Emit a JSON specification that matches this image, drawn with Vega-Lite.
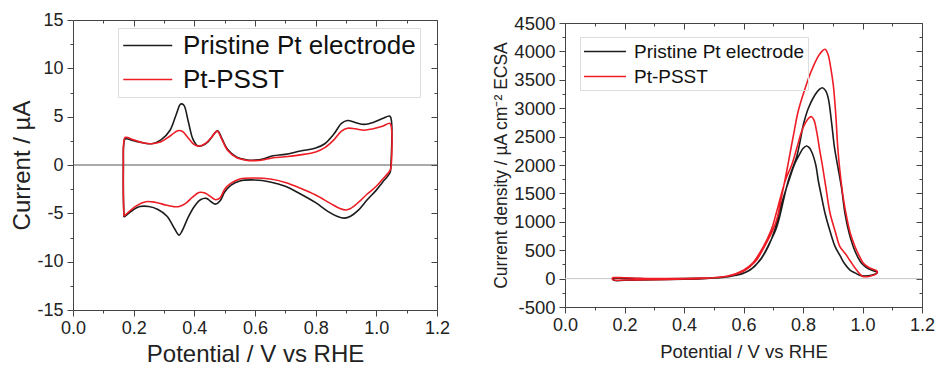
{
  "$schema": "https://vega.github.io/schema/vega-lite/v6.json",
  "background": "white",
  "padding": {"left": 10, "top": 11, "right": 5, "bottom": 2},
  "config": {
    "font": "Liberation Sans",
    "view": {"stroke": null},
    "axis": {"domainColor": "#444", "tickColor": "#444", "labelColor": "#222", "titleColor": "#222", "grid": false, "labelFontWeight": "normal", "titleFontWeight": "normal", "labelOverlap": false, "labelBound": false, "labelFlush": false, "domainWidth": 1, "tickWidth": 1}
  },
  "spacing": 128,
  "bounds": "flush",
  "center": true,
  "resolve": {"scale": {"color": "independent"}, "legend": {"color": "independent"}},
  "datasets": {
    "cv": [
      {"s":"Pristine Pt electrode","i":0,"v":0.168,"j":-5.4},
      {"s":"Pristine Pt electrode","i":1,"v":0.166,"j":-3},
      {"s":"Pristine Pt electrode","i":2,"v":0.166,"j":0},
      {"s":"Pristine Pt electrode","i":3,"v":0.167,"j":2.0},
      {"s":"Pristine Pt electrode","i":4,"v":0.172,"j":2.7},
      {"s":"Pristine Pt electrode","i":5,"v":0.2,"j":2.5},
      {"s":"Pristine Pt electrode","i":6,"v":0.23,"j":2.3},
      {"s":"Pristine Pt electrode","i":7,"v":0.26,"j":2.2},
      {"s":"Pristine Pt electrode","i":8,"v":0.29,"j":2.6},
      {"s":"Pristine Pt electrode","i":9,"v":0.32,"j":3.6},
      {"s":"Pristine Pt electrode","i":10,"v":0.34,"j":5.2},
      {"s":"Pristine Pt electrode","i":11,"v":0.355,"j":6.3},
      {"s":"Pristine Pt electrode","i":12,"v":0.365,"j":6.2},
      {"s":"Pristine Pt electrode","i":13,"v":0.38,"j":4.5},
      {"s":"Pristine Pt electrode","i":14,"v":0.395,"j":2.7},
      {"s":"Pristine Pt electrode","i":15,"v":0.41,"j":2.0},
      {"s":"Pristine Pt electrode","i":16,"v":0.425,"j":2.0},
      {"s":"Pristine Pt electrode","i":17,"v":0.445,"j":2.4},
      {"s":"Pristine Pt electrode","i":18,"v":0.465,"j":3.2},
      {"s":"Pristine Pt electrode","i":19,"v":0.477,"j":3.55},
      {"s":"Pristine Pt electrode","i":20,"v":0.49,"j":2.8},
      {"s":"Pristine Pt electrode","i":21,"v":0.51,"j":1.6},
      {"s":"Pristine Pt electrode","i":22,"v":0.54,"j":0.8},
      {"s":"Pristine Pt electrode","i":23,"v":0.57,"j":0.55},
      {"s":"Pristine Pt electrode","i":24,"v":0.6,"j":0.5},
      {"s":"Pristine Pt electrode","i":25,"v":0.63,"j":0.65},
      {"s":"Pristine Pt electrode","i":26,"v":0.66,"j":0.95},
      {"s":"Pristine Pt electrode","i":27,"v":0.7,"j":1.1},
      {"s":"Pristine Pt electrode","i":28,"v":0.75,"j":1.45},
      {"s":"Pristine Pt electrode","i":29,"v":0.8,"j":1.75},
      {"s":"Pristine Pt electrode","i":30,"v":0.83,"j":2.2},
      {"s":"Pristine Pt electrode","i":31,"v":0.86,"j":3.2},
      {"s":"Pristine Pt electrode","i":32,"v":0.885,"j":4.3},
      {"s":"Pristine Pt electrode","i":33,"v":0.905,"j":4.6},
      {"s":"Pristine Pt electrode","i":34,"v":0.93,"j":4.4},
      {"s":"Pristine Pt electrode","i":35,"v":0.96,"j":4.2},
      {"s":"Pristine Pt electrode","i":36,"v":0.99,"j":4.4},
      {"s":"Pristine Pt electrode","i":37,"v":1.02,"j":4.8},
      {"s":"Pristine Pt electrode","i":38,"v":1.045,"j":5.05},
      {"s":"Pristine Pt electrode","i":39,"v":1.05,"j":4.5},
      {"s":"Pristine Pt electrode","i":40,"v":1.048,"j":0},
      {"s":"Pristine Pt electrode","i":41,"v":1.045,"j":-0.8},
      {"s":"Pristine Pt electrode","i":42,"v":1.02,"j":-1.8},
      {"s":"Pristine Pt electrode","i":43,"v":1.0,"j":-2.6},
      {"s":"Pristine Pt electrode","i":44,"v":0.97,"j":-3.6},
      {"s":"Pristine Pt electrode","i":45,"v":0.94,"j":-4.7},
      {"s":"Pristine Pt electrode","i":46,"v":0.915,"j":-5.3},
      {"s":"Pristine Pt electrode","i":47,"v":0.895,"j":-5.5},
      {"s":"Pristine Pt electrode","i":48,"v":0.87,"j":-5.3},
      {"s":"Pristine Pt electrode","i":49,"v":0.84,"j":-4.8},
      {"s":"Pristine Pt electrode","i":50,"v":0.8,"j":-3.9},
      {"s":"Pristine Pt electrode","i":51,"v":0.75,"j":-3.0},
      {"s":"Pristine Pt electrode","i":52,"v":0.7,"j":-2.2},
      {"s":"Pristine Pt electrode","i":53,"v":0.65,"j":-1.75},
      {"s":"Pristine Pt electrode","i":54,"v":0.6,"j":-1.55},
      {"s":"Pristine Pt electrode","i":55,"v":0.55,"j":-1.65},
      {"s":"Pristine Pt electrode","i":56,"v":0.52,"j":-2.1},
      {"s":"Pristine Pt electrode","i":57,"v":0.5,"j":-2.8},
      {"s":"Pristine Pt electrode","i":58,"v":0.485,"j":-3.7},
      {"s":"Pristine Pt electrode","i":59,"v":0.47,"j":-4.05},
      {"s":"Pristine Pt electrode","i":60,"v":0.455,"j":-3.8},
      {"s":"Pristine Pt electrode","i":61,"v":0.44,"j":-3.45},
      {"s":"Pristine Pt electrode","i":62,"v":0.42,"j":-3.6},
      {"s":"Pristine Pt electrode","i":63,"v":0.4,"j":-4.3},
      {"s":"Pristine Pt electrode","i":64,"v":0.38,"j":-5.4},
      {"s":"Pristine Pt electrode","i":65,"v":0.36,"j":-6.8},
      {"s":"Pristine Pt electrode","i":66,"v":0.35,"j":-7.25},
      {"s":"Pristine Pt electrode","i":67,"v":0.335,"j":-6.6},
      {"s":"Pristine Pt electrode","i":68,"v":0.31,"j":-5.3},
      {"s":"Pristine Pt electrode","i":69,"v":0.28,"j":-4.6},
      {"s":"Pristine Pt electrode","i":70,"v":0.25,"j":-4.3},
      {"s":"Pristine Pt electrode","i":71,"v":0.22,"j":-4.3},
      {"s":"Pristine Pt electrode","i":72,"v":0.2,"j":-4.6},
      {"s":"Pristine Pt electrode","i":73,"v":0.168,"j":-5.4},
      {"s":"Pt-PSST","i":0,"v":0.168,"j":-5.3},
      {"s":"Pt-PSST","i":1,"v":0.166,"j":-3},
      {"s":"Pt-PSST","i":2,"v":0.166,"j":0},
      {"s":"Pt-PSST","i":3,"v":0.167,"j":2.2},
      {"s":"Pt-PSST","i":4,"v":0.172,"j":2.85},
      {"s":"Pt-PSST","i":5,"v":0.2,"j":2.6},
      {"s":"Pt-PSST","i":6,"v":0.23,"j":2.3},
      {"s":"Pt-PSST","i":7,"v":0.26,"j":2.2},
      {"s":"Pt-PSST","i":8,"v":0.29,"j":2.4},
      {"s":"Pt-PSST","i":9,"v":0.32,"j":3.0},
      {"s":"Pt-PSST","i":10,"v":0.345,"j":3.55},
      {"s":"Pt-PSST","i":11,"v":0.36,"j":3.5},
      {"s":"Pt-PSST","i":12,"v":0.38,"j":2.8},
      {"s":"Pt-PSST","i":13,"v":0.4,"j":2.1},
      {"s":"Pt-PSST","i":14,"v":0.415,"j":1.95},
      {"s":"Pt-PSST","i":15,"v":0.435,"j":2.2},
      {"s":"Pt-PSST","i":16,"v":0.455,"j":2.8},
      {"s":"Pt-PSST","i":17,"v":0.475,"j":3.5},
      {"s":"Pt-PSST","i":18,"v":0.49,"j":2.7},
      {"s":"Pt-PSST","i":19,"v":0.51,"j":1.5},
      {"s":"Pt-PSST","i":20,"v":0.54,"j":0.75},
      {"s":"Pt-PSST","i":21,"v":0.57,"j":0.5},
      {"s":"Pt-PSST","i":22,"v":0.6,"j":0.45},
      {"s":"Pt-PSST","i":23,"v":0.63,"j":0.55},
      {"s":"Pt-PSST","i":24,"v":0.66,"j":0.75},
      {"s":"Pt-PSST","i":25,"v":0.7,"j":0.85},
      {"s":"Pt-PSST","i":26,"v":0.75,"j":1.05},
      {"s":"Pt-PSST","i":27,"v":0.8,"j":1.35},
      {"s":"Pt-PSST","i":28,"v":0.83,"j":1.8},
      {"s":"Pt-PSST","i":29,"v":0.86,"j":2.6},
      {"s":"Pt-PSST","i":30,"v":0.885,"j":3.5},
      {"s":"Pt-PSST","i":31,"v":0.905,"j":3.8},
      {"s":"Pt-PSST","i":32,"v":0.93,"j":3.75},
      {"s":"Pt-PSST","i":33,"v":0.96,"j":3.6},
      {"s":"Pt-PSST","i":34,"v":0.99,"j":3.75},
      {"s":"Pt-PSST","i":35,"v":1.02,"j":4.0},
      {"s":"Pt-PSST","i":36,"v":1.045,"j":4.3},
      {"s":"Pt-PSST","i":37,"v":1.05,"j":3.8},
      {"s":"Pt-PSST","i":38,"v":1.049,"j":0},
      {"s":"Pt-PSST","i":39,"v":1.046,"j":-0.5},
      {"s":"Pt-PSST","i":40,"v":1.02,"j":-1.5},
      {"s":"Pt-PSST","i":41,"v":1.0,"j":-2.2},
      {"s":"Pt-PSST","i":42,"v":0.97,"j":-3.0},
      {"s":"Pt-PSST","i":43,"v":0.94,"j":-3.9},
      {"s":"Pt-PSST","i":44,"v":0.915,"j":-4.5},
      {"s":"Pt-PSST","i":45,"v":0.9,"j":-4.65},
      {"s":"Pt-PSST","i":46,"v":0.88,"j":-4.5},
      {"s":"Pt-PSST","i":47,"v":0.85,"j":-4.0},
      {"s":"Pt-PSST","i":48,"v":0.8,"j":-3.1},
      {"s":"Pt-PSST","i":49,"v":0.75,"j":-2.4},
      {"s":"Pt-PSST","i":50,"v":0.7,"j":-1.8},
      {"s":"Pt-PSST","i":51,"v":0.65,"j":-1.45},
      {"s":"Pt-PSST","i":52,"v":0.6,"j":-1.35},
      {"s":"Pt-PSST","i":53,"v":0.55,"j":-1.45},
      {"s":"Pt-PSST","i":54,"v":0.52,"j":-1.9},
      {"s":"Pt-PSST","i":55,"v":0.5,"j":-2.5},
      {"s":"Pt-PSST","i":56,"v":0.485,"j":-3.4},
      {"s":"Pt-PSST","i":57,"v":0.47,"j":-3.6},
      {"s":"Pt-PSST","i":58,"v":0.455,"j":-3.3},
      {"s":"Pt-PSST","i":59,"v":0.435,"j":-2.9},
      {"s":"Pt-PSST","i":60,"v":0.415,"j":-2.85},
      {"s":"Pt-PSST","i":61,"v":0.395,"j":-3.3},
      {"s":"Pt-PSST","i":62,"v":0.37,"j":-4.0},
      {"s":"Pt-PSST","i":63,"v":0.35,"j":-4.3},
      {"s":"Pt-PSST","i":64,"v":0.33,"j":-4.3},
      {"s":"Pt-PSST","i":65,"v":0.3,"j":-4.1},
      {"s":"Pt-PSST","i":66,"v":0.27,"j":-3.85},
      {"s":"Pt-PSST","i":67,"v":0.24,"j":-3.8},
      {"s":"Pt-PSST","i":68,"v":0.21,"j":-4.2},
      {"s":"Pt-PSST","i":69,"v":0.168,"j":-5.3}
    ],
    "mor": [
      {"s":"Pristine Pt electrode","i":0,"v":0.16,"j":10},
      {"s":"Pristine Pt electrode","i":1,"v":0.2,"j":5},
      {"s":"Pristine Pt electrode","i":2,"v":0.25,"j":0},
      {"s":"Pristine Pt electrode","i":3,"v":0.3,"j":-5},
      {"s":"Pristine Pt electrode","i":4,"v":0.4,"j":0},
      {"s":"Pristine Pt electrode","i":5,"v":0.45,"j":5},
      {"s":"Pristine Pt electrode","i":6,"v":0.5,"j":12},
      {"s":"Pristine Pt electrode","i":7,"v":0.55,"j":35},
      {"s":"Pristine Pt electrode","i":8,"v":0.6,"j":95},
      {"s":"Pristine Pt electrode","i":9,"v":0.63,"j":185},
      {"s":"Pristine Pt electrode","i":10,"v":0.66,"j":360},
      {"s":"Pristine Pt electrode","i":11,"v":0.685,"j":600},
      {"s":"Pristine Pt electrode","i":12,"v":0.708,"j":855},
      {"s":"Pristine Pt electrode","i":13,"v":0.722,"j":1100},
      {"s":"Pristine Pt electrode","i":14,"v":0.737,"j":1442},
      {"s":"Pristine Pt electrode","i":15,"v":0.752,"j":1750},
      {"s":"Pristine Pt electrode","i":16,"v":0.766,"j":1960},
      {"s":"Pristine Pt electrode","i":17,"v":0.779,"j":2150},
      {"s":"Pristine Pt electrode","i":18,"v":0.79,"j":2410},
      {"s":"Pristine Pt electrode","i":19,"v":0.801,"j":2704},
      {"s":"Pristine Pt electrode","i":20,"v":0.818,"j":2998},
      {"s":"Pristine Pt electrode","i":21,"v":0.84,"j":3232},
      {"s":"Pristine Pt electrode","i":22,"v":0.855,"j":3330},
      {"s":"Pristine Pt electrode","i":23,"v":0.865,"j":3361},
      {"s":"Pristine Pt electrode","i":24,"v":0.876,"j":3310},
      {"s":"Pristine Pt electrode","i":25,"v":0.885,"j":3174},
      {"s":"Pristine Pt electrode","i":26,"v":0.896,"j":2750},
      {"s":"Pristine Pt electrode","i":27,"v":0.906,"j":2300},
      {"s":"Pristine Pt electrode","i":28,"v":0.916,"j":2000},
      {"s":"Pristine Pt electrode","i":29,"v":0.93,"j":1580},
      {"s":"Pristine Pt electrode","i":30,"v":0.941,"j":1150},
      {"s":"Pristine Pt electrode","i":31,"v":0.955,"j":800},
      {"s":"Pristine Pt electrode","i":32,"v":0.969,"j":562},
      {"s":"Pristine Pt electrode","i":33,"v":0.985,"j":370},
      {"s":"Pristine Pt electrode","i":34,"v":0.997,"j":269},
      {"s":"Pristine Pt electrode","i":35,"v":1.012,"j":200},
      {"s":"Pristine Pt electrode","i":36,"v":1.03,"j":150},
      {"s":"Pristine Pt electrode","i":37,"v":1.047,"j":120},
      {"s":"Pristine Pt electrode","i":38,"v":1.05,"j":105},
      {"s":"Pristine Pt electrode","i":39,"v":1.045,"j":85},
      {"s":"Pristine Pt electrode","i":40,"v":1.03,"j":60},
      {"s":"Pristine Pt electrode","i":41,"v":1.01,"j":45},
      {"s":"Pristine Pt electrode","i":42,"v":0.99,"j":60},
      {"s":"Pristine Pt electrode","i":43,"v":0.975,"j":100},
      {"s":"Pristine Pt electrode","i":44,"v":0.958,"j":151},
      {"s":"Pristine Pt electrode","i":45,"v":0.94,"j":260},
      {"s":"Pristine Pt electrode","i":46,"v":0.925,"j":400},
      {"s":"Pristine Pt electrode","i":47,"v":0.908,"j":562},
      {"s":"Pristine Pt electrode","i":48,"v":0.89,"j":850},
      {"s":"Pristine Pt electrode","i":49,"v":0.874,"j":1150},
      {"s":"Pristine Pt electrode","i":50,"v":0.862,"j":1450},
      {"s":"Pristine Pt electrode","i":51,"v":0.851,"j":1736},
      {"s":"Pristine Pt electrode","i":52,"v":0.843,"j":2000},
      {"s":"Pristine Pt electrode","i":53,"v":0.829,"j":2234},
      {"s":"Pristine Pt electrode","i":54,"v":0.82,"j":2310},
      {"s":"Pristine Pt electrode","i":55,"v":0.812,"j":2334},
      {"s":"Pristine Pt electrode","i":56,"v":0.8,"j":2290},
      {"s":"Pristine Pt electrode","i":57,"v":0.79,"j":2206},
      {"s":"Pristine Pt electrode","i":58,"v":0.773,"j":2030},
      {"s":"Pristine Pt electrode","i":59,"v":0.756,"j":1780},
      {"s":"Pristine Pt electrode","i":60,"v":0.735,"j":1442},
      {"s":"Pristine Pt electrode","i":61,"v":0.72,"j":1180},
      {"s":"Pristine Pt electrode","i":62,"v":0.705,"j":855},
      {"s":"Pristine Pt electrode","i":63,"v":0.683,"j":562},
      {"s":"Pristine Pt electrode","i":64,"v":0.655,"j":320},
      {"s":"Pristine Pt electrode","i":65,"v":0.622,"j":151},
      {"s":"Pristine Pt electrode","i":66,"v":0.59,"j":80},
      {"s":"Pristine Pt electrode","i":67,"v":0.55,"j":35},
      {"s":"Pristine Pt electrode","i":68,"v":0.5,"j":10},
      {"s":"Pristine Pt electrode","i":69,"v":0.45,"j":-5},
      {"s":"Pristine Pt electrode","i":70,"v":0.4,"j":-12},
      {"s":"Pristine Pt electrode","i":71,"v":0.3,"j":-20},
      {"s":"Pristine Pt electrode","i":72,"v":0.25,"j":-25},
      {"s":"Pristine Pt electrode","i":73,"v":0.2,"j":-30},
      {"s":"Pristine Pt electrode","i":74,"v":0.165,"j":-30},
      {"s":"Pristine Pt electrode","i":75,"v":0.16,"j":10},
      {"s":"Pt-PSST","i":0,"v":0.16,"j":20},
      {"s":"Pt-PSST","i":1,"v":0.2,"j":15},
      {"s":"Pt-PSST","i":2,"v":0.25,"j":5},
      {"s":"Pt-PSST","i":3,"v":0.3,"j":0},
      {"s":"Pt-PSST","i":4,"v":0.4,"j":3},
      {"s":"Pt-PSST","i":5,"v":0.45,"j":8},
      {"s":"Pt-PSST","i":6,"v":0.5,"j":15},
      {"s":"Pt-PSST","i":7,"v":0.55,"j":45},
      {"s":"Pt-PSST","i":8,"v":0.6,"j":130},
      {"s":"Pt-PSST","i":9,"v":0.64,"j":300},
      {"s":"Pt-PSST","i":10,"v":0.67,"j":560},
      {"s":"Pt-PSST","i":11,"v":0.7,"j":870},
      {"s":"Pt-PSST","i":12,"v":0.715,"j":1100},
      {"s":"Pt-PSST","i":13,"v":0.728,"j":1442},
      {"s":"Pt-PSST","i":14,"v":0.74,"j":1750},
      {"s":"Pt-PSST","i":15,"v":0.751,"j":2050},
      {"s":"Pt-PSST","i":16,"v":0.767,"j":2500},
      {"s":"Pt-PSST","i":17,"v":0.784,"j":2950},
      {"s":"Pt-PSST","i":18,"v":0.801,"j":3250},
      {"s":"Pt-PSST","i":19,"v":0.818,"j":3520},
      {"s":"Pt-PSST","i":20,"v":0.835,"j":3740},
      {"s":"Pt-PSST","i":21,"v":0.852,"j":3920},
      {"s":"Pt-PSST","i":22,"v":0.865,"j":4010},
      {"s":"Pt-PSST","i":23,"v":0.874,"j":4037},
      {"s":"Pt-PSST","i":24,"v":0.884,"j":3950},
      {"s":"Pt-PSST","i":25,"v":0.893,"j":3720},
      {"s":"Pt-PSST","i":26,"v":0.902,"j":3400},
      {"s":"Pt-PSST","i":27,"v":0.91,"j":2900},
      {"s":"Pt-PSST","i":28,"v":0.917,"j":2300},
      {"s":"Pt-PSST","i":29,"v":0.925,"j":1850},
      {"s":"Pt-PSST","i":30,"v":0.936,"j":1400},
      {"s":"Pt-PSST","i":31,"v":0.948,"j":1050},
      {"s":"Pt-PSST","i":32,"v":0.96,"j":780},
      {"s":"Pt-PSST","i":33,"v":0.975,"j":562},
      {"s":"Pt-PSST","i":34,"v":0.99,"j":390},
      {"s":"Pt-PSST","i":35,"v":1.003,"j":269},
      {"s":"Pt-PSST","i":36,"v":1.02,"j":200},
      {"s":"Pt-PSST","i":37,"v":1.035,"j":165},
      {"s":"Pt-PSST","i":38,"v":1.047,"j":140},
      {"s":"Pt-PSST","i":39,"v":1.05,"j":115},
      {"s":"Pt-PSST","i":40,"v":1.045,"j":80},
      {"s":"Pt-PSST","i":41,"v":1.03,"j":50},
      {"s":"Pt-PSST","i":42,"v":1.015,"j":33},
      {"s":"Pt-PSST","i":43,"v":1.0,"j":40},
      {"s":"Pt-PSST","i":44,"v":0.98,"j":151},
      {"s":"Pt-PSST","i":45,"v":0.96,"j":300},
      {"s":"Pt-PSST","i":46,"v":0.945,"j":420},
      {"s":"Pt-PSST","i":47,"v":0.924,"j":562},
      {"s":"Pt-PSST","i":48,"v":0.91,"j":800},
      {"s":"Pt-PSST","i":49,"v":0.891,"j":1150},
      {"s":"Pt-PSST","i":50,"v":0.877,"j":1600},
      {"s":"Pt-PSST","i":51,"v":0.865,"j":2000},
      {"s":"Pt-PSST","i":52,"v":0.857,"j":2234},
      {"s":"Pt-PSST","i":53,"v":0.846,"j":2586},
      {"s":"Pt-PSST","i":54,"v":0.837,"j":2790},
      {"s":"Pt-PSST","i":55,"v":0.829,"j":2851},
      {"s":"Pt-PSST","i":56,"v":0.82,"j":2830},
      {"s":"Pt-PSST","i":57,"v":0.808,"j":2740},
      {"s":"Pt-PSST","i":58,"v":0.795,"j":2586},
      {"s":"Pt-PSST","i":59,"v":0.779,"j":2294},
      {"s":"Pt-PSST","i":60,"v":0.762,"j":2000},
      {"s":"Pt-PSST","i":61,"v":0.742,"j":1750},
      {"s":"Pt-PSST","i":62,"v":0.725,"j":1442},
      {"s":"Pt-PSST","i":63,"v":0.71,"j":1150},
      {"s":"Pt-PSST","i":64,"v":0.693,"j":855},
      {"s":"Pt-PSST","i":65,"v":0.66,"j":500},
      {"s":"Pt-PSST","i":66,"v":0.63,"j":269},
      {"s":"Pt-PSST","i":67,"v":0.6,"j":150},
      {"s":"Pt-PSST","i":68,"v":0.55,"j":50},
      {"s":"Pt-PSST","i":69,"v":0.5,"j":15},
      {"s":"Pt-PSST","i":70,"v":0.45,"j":0},
      {"s":"Pt-PSST","i":71,"v":0.4,"j":-8},
      {"s":"Pt-PSST","i":72,"v":0.3,"j":-18},
      {"s":"Pt-PSST","i":73,"v":0.25,"j":-22},
      {"s":"Pt-PSST","i":74,"v":0.2,"j":-25},
      {"s":"Pt-PSST","i":75,"v":0.16,"j":-20},
      {"s":"Pt-PSST","i":76,"v":0.16,"j":20}
    ]
  },
  "hconcat": [
    {
      "width": 364,
      "height": 290,
      "data": {"name": "cv"},
      "layer": [
        {
          "data": {"values": [{"z": 0}]},
          "mark": {"type": "rule", "color": "#555", "strokeWidth": 1},
          "encoding": {"y": {"field": "z", "type": "quantitative", "scale": {"domain": [-15, 15], "nice": false}, "axis": null}}
        },
        {
          "mark": {"type": "line", "strokeWidth": 1.6, "interpolate": "catmull-rom"},
          "encoding": {
            "x": {"field": "v", "type": "quantitative", "scale": {"domain": [0, 1.2], "nice": false, "zero": false},
              "axis": {"orient": "bottom", "values": [0,0.1,0.2,0.3,0.4,0.5,0.6,0.7,0.8,0.9,1.0,1.1,1.2],
                "labelExpr": "round(datum.value*10)%2==0 ? format(datum.value,'.1f') : ''",
                "tickSize": {"condition": {"test": "round(datum.value*10)%2==0", "value": 6}, "value": 3},
                "labelFontSize": 18, "labelPadding": 3, "title": "Potential / V vs RHE", "titleFontSize": 24, "titlePadding": 5}},
            "y": {"field": "j", "type": "quantitative", "scale": {"domain": [-15, 15], "nice": false},
              "axis": {"orient": "left", "values": [-15,-12.5,-10,-7.5,-5,-2.5,0,2.5,5,7.5,10,12.5,15],
                "labelExpr": "datum.value % 5 == 0 ? '' + datum.value : ''",
                "tickSize": {"condition": {"test": "datum.value % 5 == 0", "value": 6}, "value": 3},
                "labelFontSize": 18, "labelPadding": 4, "title": "Current / µA", "titleFontSize": 24, "titlePadding": 2}},
            "color": {"field": "s", "type": "nominal",
              "scale": {"domain": ["Pristine Pt electrode", "Pt-PSST"], "range": ["#1c1c1c", "#ee1c25"]},
              "legend": {"orient": "none", "legendX": 45, "legendY": 8, "title": null, "symbolType": "M-1,0H3", "symbolSize": 600, "symbolStrokeWidth": 1.6, "labelFontSize": 26, "labelColor": "#111", "labelLimit": 400, "labelOffset": 34, "strokeColor": "#dddddd", "padding": 4, "rowPadding": 7}},
            "order": {"field": "i", "type": "quantitative"}
          }
        },
        {
          "data": {"values": [{"v": 0, "j": -15}, {"v": 1.2, "j": 15}]},
          "mark": {"type": "point", "opacity": 0},
          "encoding": {
            "x": {"field": "v", "type": "quantitative", "scale": {"domain": [0, 1.2], "nice": false, "zero": false},
              "axis": {"orient": "top", "values": [0,0.1,0.2,0.3,0.4,0.5,0.6,0.7,0.8,0.9,1.0,1.1,1.2], "labels": false, "title": null,
                "tickSize": {"condition": {"test": "round(datum.value*10)%2==0", "value": -6}, "value": -3}}},
            "y": {"field": "j", "type": "quantitative", "scale": {"domain": [-15, 15], "nice": false},
              "axis": {"orient": "right", "values": [-15,-12.5,-10,-7.5,-5,-2.5,0,2.5,5,7.5,10,12.5,15], "labels": false, "title": null,
                "tickSize": {"condition": {"test": "datum.value % 5 == 0", "value": -6}, "value": -3}}}
          }
        }
      ],
      "resolve": {"axis": {"x": "independent", "y": "independent"}}
    },
    {
      "width": 357,
      "height": 284,
      "data": {"name": "mor"},
      "layer": [
        {
          "data": {"values": [{"z": 0}]},
          "mark": {"type": "rule", "color": "#c8c8c8", "strokeWidth": 1},
          "encoding": {"y": {"field": "z", "type": "quantitative", "scale": {"domain": [-500, 4500], "nice": false}, "axis": null}}
        },
        {
          "mark": {"type": "line", "strokeWidth": 1.6, "interpolate": "catmull-rom"},
          "encoding": {
            "x": {"field": "v", "type": "quantitative", "scale": {"domain": [0, 1.2], "nice": false, "zero": false},
              "axis": {"orient": "bottom", "values": [0,0.1,0.2,0.3,0.4,0.5,0.6,0.7,0.8,0.9,1.0,1.1,1.2],
                "labelExpr": "round(datum.value*10)%2==0 ? format(datum.value,'.1f') : ''",
                "tickSize": {"condition": {"test": "round(datum.value*10)%2==0", "value": 6}, "value": 3},
                "labelFontSize": 18, "labelPadding": 3, "title": "Potential / V vs RHE", "titleFontSize": 18.5, "titlePadding": 8}},
            "y": {"field": "j", "type": "quantitative", "scale": {"domain": [-500, 4500], "nice": false},
              "axis": {"orient": "left", "values": [-500,-250,0,250,500,750,1000,1250,1500,1750,2000,2250,2500,2750,3000,3250,3500,3750,4000,4250,4500],
                "labelExpr": "datum.value % 500 == 0 ? '' + datum.value : ''",
                "tickSize": {"condition": {"test": "datum.value % 500 == 0", "value": 6}, "value": 3},
                "labelFontSize": 18.5, "labelPadding": 4, "title": "Current density / µA cm⁻² ECSA", "titleFontSize": 17.5, "titlePadding": 3}},
            "color": {"field": "s", "type": "nominal",
              "scale": {"domain": ["Pristine Pt electrode", "Pt-PSST"], "range": ["#1c1c1c", "#ee1c25"]},
              "legend": {"orient": "none", "legendX": 15, "legendY": 14, "title": null, "symbolType": "M-1,0H3", "symbolSize": 441, "symbolStrokeWidth": 1.6, "labelFontSize": 19, "labelColor": "#111", "labelLimit": 400, "labelOffset": 28, "strokeColor": "#dddddd", "padding": 3, "rowPadding": 3}},
            "order": {"field": "i", "type": "quantitative"}
          }
        },
        {
          "data": {"values": [{"v": 0, "j": -500}, {"v": 1.2, "j": 4500}]},
          "mark": {"type": "point", "opacity": 0},
          "encoding": {
            "x": {"field": "v", "type": "quantitative", "scale": {"domain": [0, 1.2], "nice": false, "zero": false},
              "axis": {"orient": "top", "values": [0,0.1,0.2,0.3,0.4,0.5,0.6,0.7,0.8,0.9,1.0,1.1,1.2], "labels": false, "title": null,
                "tickSize": {"condition": {"test": "round(datum.value*10)%2==0", "value": -6}, "value": -3}}},
            "y": {"field": "j", "type": "quantitative", "scale": {"domain": [-500, 4500], "nice": false},
              "axis": {"orient": "right", "values": [-500,-250,0,250,500,750,1000,1250,1500,1750,2000,2250,2500,2750,3000,3250,3500,3750,4000,4250,4500], "labels": false, "title": null,
                "tickSize": {"condition": {"test": "datum.value % 500 == 0", "value": -6}, "value": -3}}}
          }
        }
      ],
      "resolve": {"axis": {"x": "independent", "y": "independent"}}
    }
  ]
}
